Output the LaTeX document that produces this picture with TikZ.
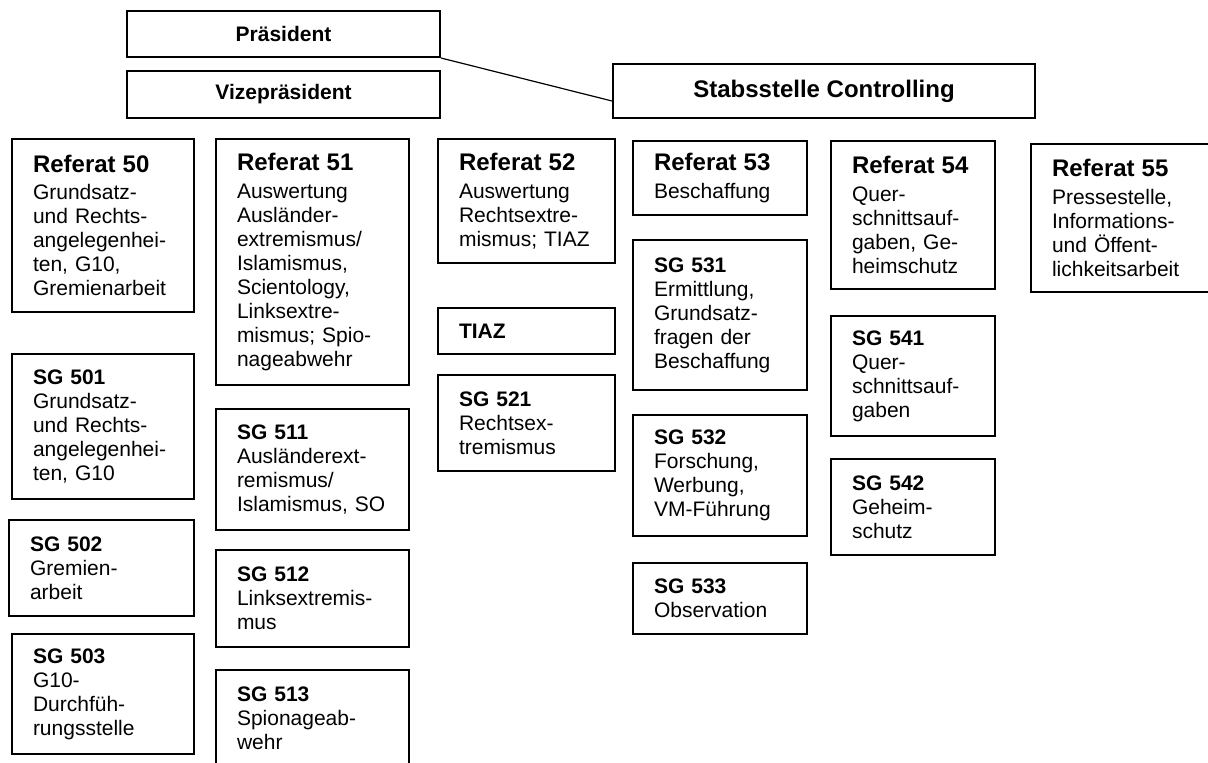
\documentclass[tikz,border=0pt]{standalone}
\usepackage{fontspec}
\setmainfont{Liberation Sans}
\usepackage{tikz}
\tikzstyle{unit}=[draw, line width=1pt, anchor=north west, inner xsep=10.5pt, inner ysep=0pt, align=left, font=\fontsize{10.5}{12}\selectfont]
\tikzstyle{chief}=[draw, line width=1pt, anchor=north west, inner sep=0pt, font=\fontsize{10.5}{12}\selectfont\bfseries]
\newcommand{\unit}{\node[unit]}
\newcommand{\chief}{\node[chief]}
\newcommand{\refhead}[1]{{\fontsize{12}{14}\selectfont\bfseries #1\par}\vspace{1.75pt}}

\begin{document}
\begin{tikzpicture}[x=0.5pt, y=-0.5pt]
    \useasboundingbox (0,0) rectangle (1208,762);
    % Leitung
    \chief (praes) at (126,10) [minimum width=156.5pt, minimum height=23pt]{Präsident};
    \chief (vize) at (126,70) [minimum width=156.5pt, minimum height=23.5pt]{Vizepräsident};
    \chief (stab) at (612,63) [minimum width=211pt, minimum height=27pt, font=\fontsize{12}{14}\selectfont\bfseries]{Stabsstelle Controlling};
    % Referate
    \unit (ref50) at (11,138) [text width=70pt, minimum height=86.5pt]{\refhead{Referat 50}Grundsatz-\\ und Rechts-\\ angelegenhei-\\ ten, G10,\\ Gremienarbeit};
    \unit (ref51) at (215,138) [text width=75.5pt, minimum height=123pt]{\refhead{Referat 51}Auswertung\\ Ausländer-\\ extremismus/\\ Islamismus,\\ Scientology,\\ Linksextre-\\ mismus; Spio-\\ nageabwehr};
    \unit (ref52) at (437,138) [text width=67.5pt, minimum height=62pt]{\refhead{Referat 52}Auswertung\\ Rechtsextre-\\ mismus; TIAZ};
    \unit (ref53) at (632,140) [text width=66pt, minimum height=37pt]{\refhead{Referat 53}Beschaffung};
    \unit (ref54) at (830,140) [text width=61pt, minimum height=74pt]{\refhead{Referat 54}Quer-\\ schnittsauf-\\ gaben, Ge-\\ heimschutz};
    \unit (ref55) at (1030,143) [text width=76pt, minimum height=74pt]{\refhead{Referat 55}Pressestelle,\\ Informations-\\ und Öffent-\\ lichkeitsarbeit};
    % Sachgebiete
    \unit (sg501) at (11,353) [text width=70pt, minimum height=72.5pt]{\textbf{SG 501}\\ Grundsatz-\\ und Rechts-\\ angelegenhei-\\ ten, G10};
    \unit (sg502) at (8,519) [text width=71.5pt, minimum height=48pt]{\textbf{SG 502}\\ Gremien-\\ arbeit};
    \unit (sg503) at (11,633) [text width=70pt, minimum height=60pt]{\textbf{SG 503}\\ G10-\\ Durchfüh-\\ rungsstelle};
    \unit (sg511) at (215,408) [text width=75.5pt, minimum height=60.5pt]{\textbf{SG 511}\\ Ausländerext-\\ remismus/\\ Islamismus, SO};
    \unit (sg512) at (215,549) [text width=75.5pt, minimum height=48.5pt]{\textbf{SG 512}\\ Linksextremis-\\ mus};
    \unit (sg513) at (215,669) [text width=75.5pt, minimum height=48pt]{\textbf{SG 513}\\ Spionageab-\\ wehr};
    \unit (tiaz) at (437,307) [text width=67.5pt, minimum height=23pt]{\textbf{TIAZ}};
    \unit (sg521) at (437,374) [text width=67.5pt, minimum height=48pt]{\textbf{SG 521}\\ Rechtsex-\\ tremismus};
    \unit (sg531) at (632,239) [text width=66pt, minimum height=75pt]{\textbf{SG 531}\\ Ermittlung,\\ Grundsatz-\\ fragen der\\ Beschaffung};
    \unit (sg532) at (632,414) [text width=66pt, minimum height=60.5pt]{\textbf{SG 532}\\ Forschung,\\ Werbung,\\ VM-Führung};
    \unit (sg533) at (632,562) [text width=66pt, minimum height=35.5pt]{\textbf{SG 533}\\ Observation};
    \unit (sg541) at (830,315) [text width=61pt, minimum height=60pt]{\textbf{SG 541}\\ Quer-\\ schnittsauf-\\ gaben};
    \unit (sg542) at (830,458) [text width=61pt, minimum height=48pt]{\textbf{SG 542}\\ Geheim-\\ schutz};
    \draw[line width=0.6pt] (praes.south east) -- ([yshift=-5pt]stab.west);
\end{tikzpicture}
\end{document}
